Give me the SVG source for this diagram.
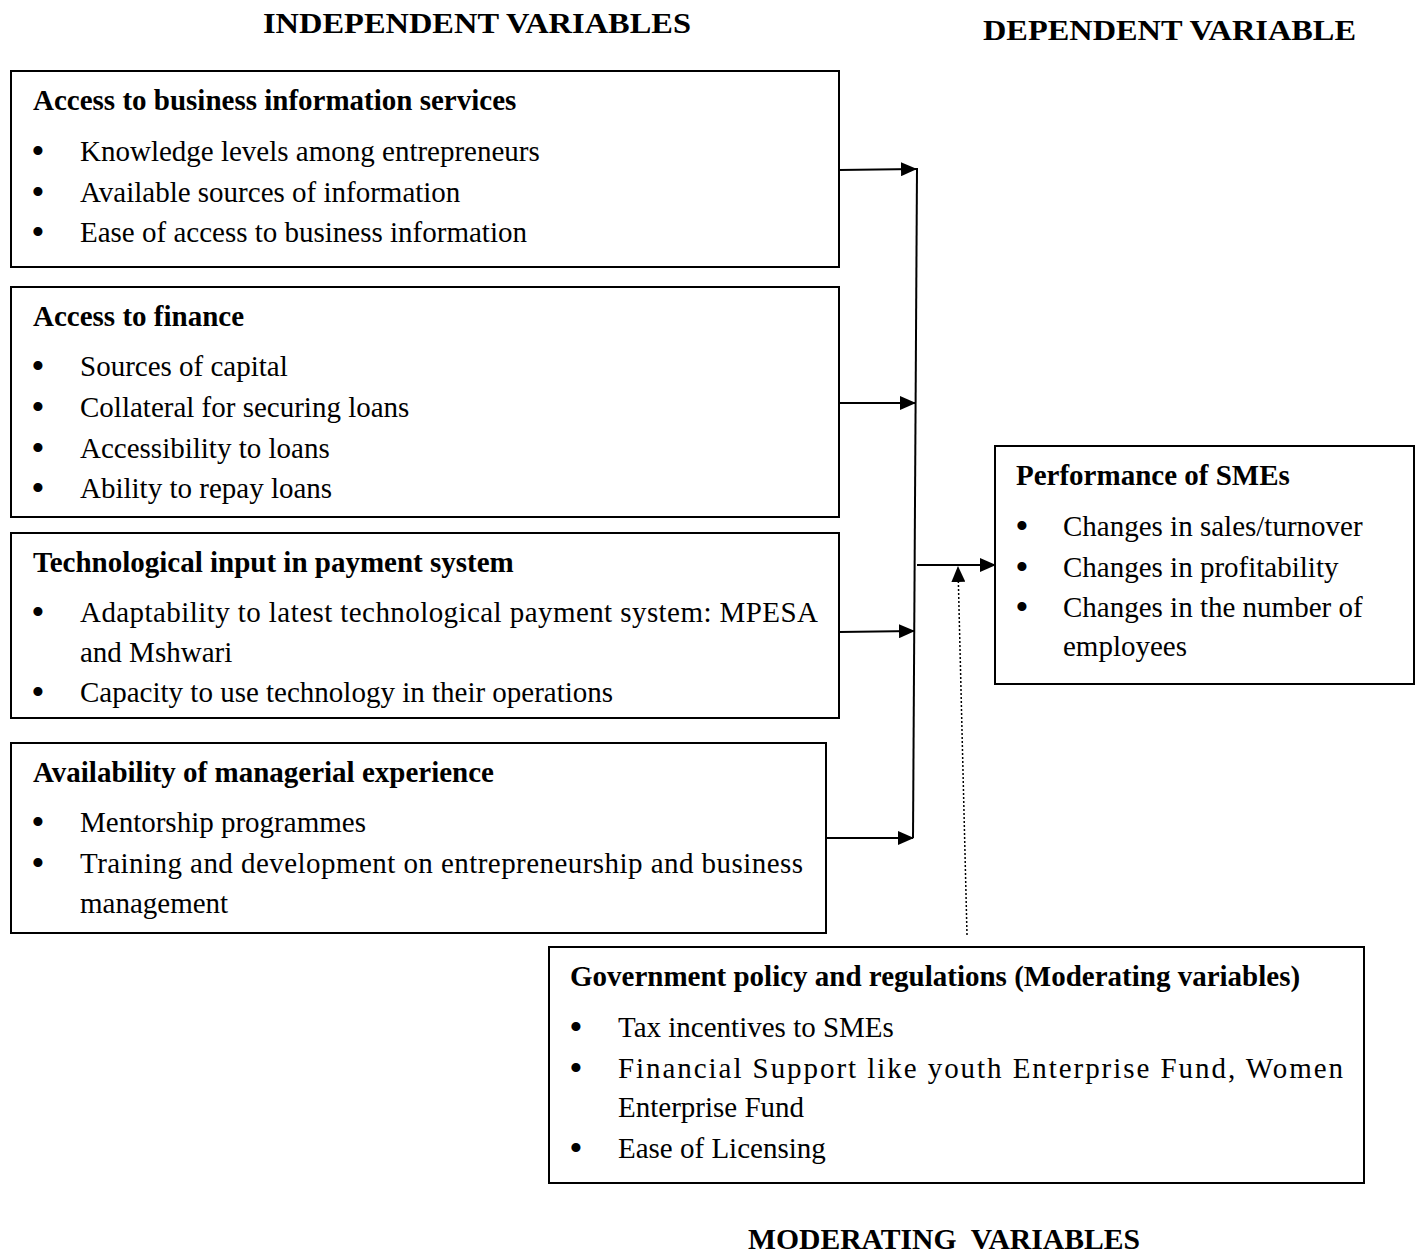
<svg xmlns="http://www.w3.org/2000/svg" width="1416" height="1255" viewBox="0 0 1416 1255">
<style>
text{font-family:"Liberation Serif","Times New Roman",serif;font-size:29px;fill:#000}
.h{font-weight:bold}
.hd{font-weight:bold;font-size:30px}
.b{font-size:38px;text-anchor:middle}
.box{fill:#fff;stroke:#000;stroke-width:2}
.ln{stroke:#000;stroke-width:2;fill:none}
.dot{stroke:#000;stroke-width:1.5;stroke-dasharray:2 2;fill:none}
</style>
<defs>
<marker id="ah2" markerWidth="16" markerHeight="14" refX="15" refY="7" orient="auto" markerUnits="userSpaceOnUse" viewBox="0 0 16 14"><path d="M0,0 L16,7 L0,14 Z" fill="#000"/></marker>
</defs>
<rect width="1416" height="1255" fill="#fff"/>
<g id="headings">
<text class="hd" x="263" y="33" textLength="428" lengthAdjust="spacingAndGlyphs">INDEPENDENT VARIABLES</text>
<text class="hd" x="983" y="40" textLength="373" lengthAdjust="spacingAndGlyphs">DEPENDENT VARIABLE</text>
<text class="hd" x="748" y="1249" textLength="392" lengthAdjust="spacingAndGlyphs" xml:space="preserve">MODERATING  VARIABLES</text>
</g>
<g id="n1">
<rect class="box" x="11" y="71" width="828" height="196"/>
<text class="h" x="33" y="110">Access to business information services</text>
<text class="b" x="38" y="164">•</text><text x="80" y="161">Knowledge levels among entrepreneurs</text>
<text class="b" x="38" y="205">•</text><text x="80" y="202">Available sources of information</text>
<text class="b" x="38" y="245">•</text><text x="80" y="242">Ease of access to business information</text>
</g>
<g id="n2">
<rect class="box" x="11" y="287" width="828" height="230"/>
<text class="h" x="33" y="326">Access to finance</text>
<text class="b" x="38" y="379">•</text><text x="80" y="376">Sources of capital</text>
<text class="b" x="38" y="420">•</text><text x="80" y="417">Collateral for securing loans</text>
<text class="b" x="38" y="461">•</text><text x="80" y="458">Accessibility to loans</text>
<text class="b" x="38" y="501">•</text><text x="80" y="498">Ability to repay loans</text>
</g>
<g id="n3">
<rect class="box" x="11" y="533" width="828" height="185"/>
<text class="h" x="33" y="572">Technological input in payment system</text>
<text class="b" x="38" y="625">•</text><text x="80" y="622" textLength="738" lengthAdjust="spacing">Adaptability to latest technological payment system: MPESA</text>
<text x="80" y="662">and Mshwari</text>
<text class="b" x="38" y="705">•</text><text x="80" y="702">Capacity to use technology in their operations</text>
</g>
<g id="n4">
<rect class="box" x="11" y="743" width="815" height="190"/>
<text class="h" x="33" y="782">Availability of managerial experience</text>
<text class="b" x="38" y="835">•</text><text x="80" y="832">Mentorship programmes</text>
<text class="b" x="38" y="876">•</text><text x="80" y="873" textLength="723" lengthAdjust="spacing">Training and development on entrepreneurship and business</text>
<text x="80" y="913">management</text>
</g>
<g id="n5">
<rect class="box" x="995" y="446" width="419" height="238"/>
<text class="h" x="1016" y="485">Performance of SMEs</text>
<text class="b" x="1022" y="539">•</text><text x="1063" y="536">Changes in sales/turnover</text>
<text class="b" x="1022" y="580">•</text><text x="1063" y="577">Changes in profitability</text>
<text class="b" x="1022" y="620">•</text><text x="1063" y="617">Changes in the number of</text>
<text x="1063" y="656">employees</text>
</g>
<g id="n6">
<rect class="box" x="549" y="947" width="815" height="236"/>
<text class="h" x="570" y="986">Government policy and regulations (Moderating variables)</text>
<text class="b" x="576" y="1040">•</text><text x="618" y="1037">Tax incentives to SMEs</text>
<text class="b" x="576" y="1081">•</text><text x="618" y="1078" textLength="725" lengthAdjust="spacing">Financial Support like youth Enterprise Fund, Women</text>
<text x="618" y="1117">Enterprise Fund</text>
<text class="b" x="576" y="1161">•</text><text x="618" y="1158">Ease of Licensing</text>
</g>
<g id="connectors">
<line class="ln" x1="917" y1="168" x2="913" y2="838"/>
<line class="ln" x1="839" y1="170" x2="916" y2="169" marker-end="url(#ah2)"/>
<line class="ln" x1="839" y1="403" x2="915" y2="403" marker-end="url(#ah2)"/>
<line class="ln" x1="839" y1="632" x2="914" y2="631" marker-end="url(#ah2)"/>
<line class="ln" x1="826" y1="838" x2="913" y2="838" marker-end="url(#ah2)"/>
<line class="ln" x1="917" y1="565" x2="995" y2="565" marker-end="url(#ah2)"/>
<line class="dot" x1="967" y1="935" x2="958" y2="567" marker-end="url(#ah2)"/>
</g>
</svg>
